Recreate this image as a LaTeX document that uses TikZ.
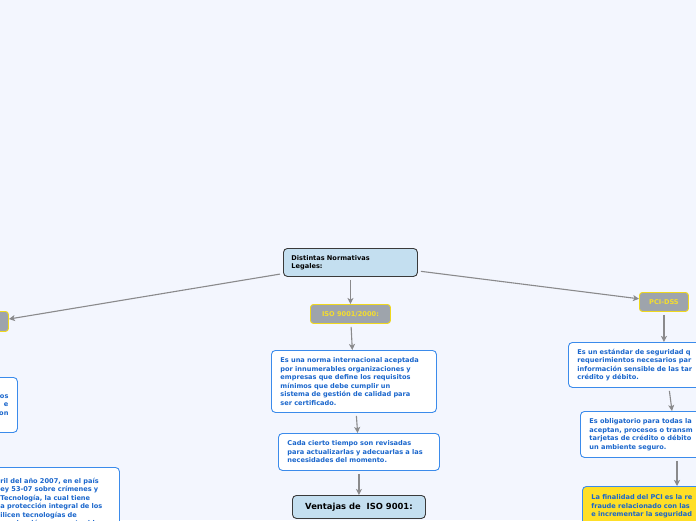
\documentclass[tikz,border=0pt]{standalone}
\usepackage{fontspec}
\setmainfont{DejaVu Sans}
\usetikzlibrary{arrows.meta,calc}
\definecolor{bgc}{RGB}{243,246,254}
\definecolor{edgec}{RGB}{138,138,140}
\definecolor{bluebd}{RGB}{59,139,235}
\definecolor{bluetx}{RGB}{26,102,204}
\definecolor{grayfill}{RGB}{158,164,172}
\definecolor{yellowbd}{RGB}{239,216,30}
\definecolor{yellowtx}{RGB}{245,222,44}
\definecolor{mainfill}{RGB}{196,223,240}
\definecolor{maindark}{RGB}{58,58,58}
\definecolor{yellowfill}{RGB}{255,223,38}
\tikzset{
  txt/.style={font=\fontsize{6.6}{8.5}\selectfont\bfseries},
  mainbox/.style={txt, draw=maindark, fill=mainfill, line width=0.9pt, rounded corners=4pt, anchor=north west, inner ysep=0pt, align=left},
  graybox/.style={txt, draw=yellowbd, fill=grayfill, text=yellowtx, line width=0.9pt, rounded corners=3pt, anchor=north west, inner sep=0pt, align=center},
  bluebox/.style={txt, draw=bluebd, fill=white, text=bluetx, line width=0.9pt, rounded corners=4pt, anchor=north west, inner xsep=9pt, inner ysep=0pt, align=left},
  conn/.style={draw=edgec, line width=1.1pt, -{Stealth[length=6pt,width=6pt,inset=1.5pt]}, shorten <=3pt}
}
\begin{document}
\begin{tikzpicture}[x=1pt,y=-1pt]
\fill[bgc] (0,0) rectangle (696,520);
\useasboundingbox (0,0) rectangle (696,520);
\clip (0,0) rectangle (696,520);

% central node
\node[mainbox, text=black, inner xsep=8pt, minimum width=134pt, minimum height=28pt, text width=118pt] (main) at (283,248) {Distintas Normativas\\Legales:};

% second level
\node[graybox, minimum width=80pt, minimum height=19pt] (iso) at (310,304) {ISO 9001/2000:};
\node[graybox, minimum width=49pt, minimum height=19pt] (pci) at (639,292) {PCI-DSS};
\node[graybox, minimum width=28pt, minimum height=20pt] (left) at (-20,311) {};

% ISO branch
\node[bluebox, minimum width=165pt, minimum height=62pt, text width=147pt] (iso1) at (271,350) {Es una norma internacional aceptada\\por innumerables organizaciones y\\empresas que define los requisitos\\mínimos que debe cumplir un\\sistema de gestión de calidad para\\ser certificado.};
\node[bluebox, minimum width=161pt, minimum height=37pt, text width=143pt] (iso2) at (278,433) {Cada cierto tiempo son revisadas\\para actualizarlas y adecuarlas a las\\necesidades del momento.};
\node[mainbox, text=black, font=\fontsize{8.4}{10}\selectfont\bfseries, inner xsep=0pt, minimum width=133pt, minimum height=23pt, align=center] (vent) at (292,495) {Ventajas de\ \ ISO 9001:};

% left branch
\node[bluebox, minimum width=117pt, minimum height=55pt, text width=99pt, align=right] (left1) at (-100,377) {os\\e\\on};
\node[bluebox, minimum width=128pt, minimum height=70pt, text width=110pt, inner ysep=0.5pt] (left2) at (-9,467) {ril del año 2007, en el país\\ey 53-07 sobre crímenes y\\Tecnología, la cual tiene\\a protección integral de los\\ilicen tecnologías de\\municación y su contenido};

% PCI branch
\node[bluebox, minimum width=160pt, minimum height=45pt, text width=142pt] (pci1) at (568,342) {Es un estándar de seguridad q\\requerimientos necesarios par\\información sensible de las tar\\crédito y débito.};
\node[bluebox, minimum width=150pt, minimum height=46pt, text width=132pt] (pci2) at (580,411) {Es obligatorio para todas la\\aceptan, procesos o transm\\tarjetas de crédito o débito\\un ambiente seguro.};
\node[bluebox, fill=yellowfill, minimum width=150pt, minimum height=40pt, text width=132pt, inner ysep=0.5pt] (pci3) at (582,486) {La finalidad del PCI es la re\\fraude relacionado con las\\e incrementar la seguridad};

% connectors
\draw[conn] (main) -- (left);
\draw[conn] (main) -- (pci);
\draw[conn] (main.south) -- (iso.north);
\draw[conn] (iso) -- (iso1);
\draw[conn] (iso1) -- (iso2);
\draw[conn] (iso2) -- (vent);
\draw[conn] (pci.south) -- (pci.south |- pci1.north);
\draw[conn] ($(pci1.south west)+(101,0)$) -- ($(pci2.north west)+(92,0)$);
\draw[conn] ($(pci2.south west)+(97,0)$) -- ($(pci3.north west)+(95,0)$);
\end{tikzpicture}
\end{document}
